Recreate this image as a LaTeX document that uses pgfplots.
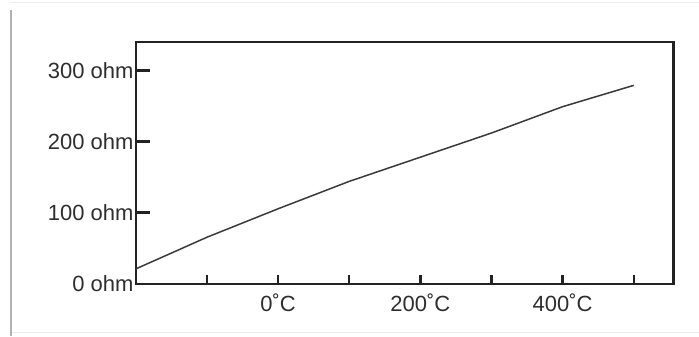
\documentclass[border=0pt]{standalone}
\usepackage{pgfplots}
\pgfplotsset{compat=1.18}
\usepackage{fontspec}
\setmainfont{Liberation Sans}
\definecolor{txt}{HTML}{2E2E2E}
\definecolor{ax}{HTML}{222222}
\definecolor{crv}{HTML}{3A3A3A}
\begin{document}
\begin{tikzpicture}[x=1bp,y=1bp]
\fill[white] (0,0) rectangle (699,336);
\draw[black!8, line width=1bp] (11,333) -- (699,333);
\draw[black!8, line width=1bp] (11,3) -- (699,3);
\draw[black!30, line width=2bp] (11.5,0) -- (11.5,326);
\begin{axis}[
  at={(136bp,52bp)}, anchor=south west,
  scale only axis, width=538bp, height=242bp,
  xmin=-200, xmax=556, ymin=0, ymax=340,
  axis line style={ax, line width=2.6bp},
  tick style={ax, line width=2.4bp},
  tick align=inside,
  xtick pos=bottom, ytick pos=left,
  xtick={-100,0,100,200,300,400,500},
  xticklabels={,0˚C,,200˚C,,400˚C,},
  ytick={0,100,200,300},
  yticklabels={0 ohm,100 ohm,200 ohm,300 ohm},
  xtick style={/pgfplots/major tick length=9bp},
  ytick style={/pgfplots/major tick length=14bp},
  ticklabel style={font=\fontsize{22bp}{24bp}\selectfont, text=txt},
  xticklabel style={yshift=-6bp},
  yticklabel style={xshift=1bp},
  clip=false,
]
\addplot[crv, line width=1.5bp, mark=none] coordinates {
(-200,21) (-100,65.5) (0,105.5) (100,144) (200,178) (300,212) (400,249) (500,279)
};
\end{axis}
\end{tikzpicture}
\end{document}
